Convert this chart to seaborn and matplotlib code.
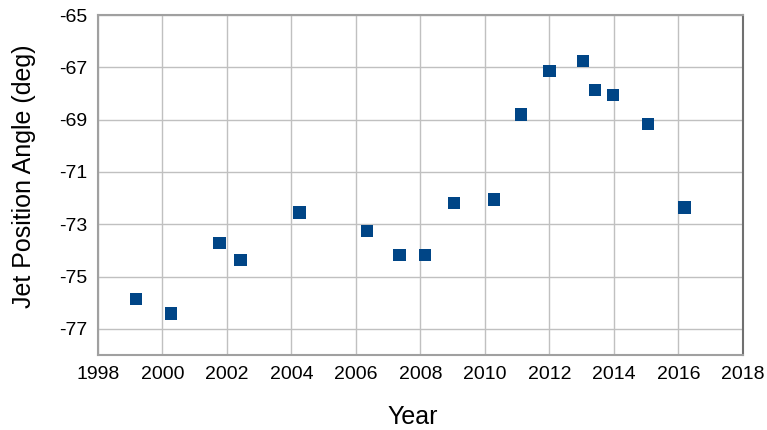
import matplotlib
matplotlib.use("Agg")
import matplotlib.pyplot as plt
import seaborn as sns
import pandas as pd

# ====================== data ======================
years = [1999.17, 2000.26, 2001.77, 2002.42, 2004.25, 2006.34, 2007.35, 2008.14,
         2009.05, 2010.28, 2011.12, 2012.00, 2013.03, 2013.42, 2013.98, 2015.06, 2016.19]
angles = [-75.87, -76.41, -73.72, -74.38, -72.55, -73.27, -74.17, -74.17,
          -72.18, -72.05, -68.80, -67.14, -66.77, -67.88, -68.07, -69.17, -72.36]
x_ticks = list(range(1998, 2019, 2))
y_ticks = [-77, -75, -73, -71, -69, -67, -65]

df = pd.DataFrame({"Year": years, "Angle": angles})

# ====================== plot ======================
sns.set_style("white")
plt.rcParams['font.family'] = ['Liberation Sans', 'DejaVu Sans']
plt.rcParams['text.color'] = 'black'
plt.rcParams['axes.labelcolor'] = 'black'
plt.rcParams['xtick.labelcolor'] = 'black'
plt.rcParams['ytick.labelcolor'] = 'black'

fig = plt.figure(figsize=(7.67, 4.30), dpi=100)
ax = fig.add_axes([98 / 767, 1 - 355 / 430, (743 - 98) / 767, (355 - 15) / 430])

sns.scatterplot(data=df, x="Year", y="Angle", marker="s", s=78, color="#004586",
                edgecolor="none", ax=ax, zorder=3)

ax.set_xlim(1998, 2018)
ax.set_ylim(-78, -65)
ax.set_xticks(x_ticks)
ax.set_yticks(y_ticks)
ax.set_yticklabels([str(t) for t in y_ticks])
ax.grid(True, color="#c0c0c0", linewidth=1.0)
ax.set_axisbelow(True)

for side in ["left", "bottom", "top"]:
    ax.spines[side].set_color("#a0a0a0")
    ax.spines[side].set_linewidth(1.5)
ax.spines["right"].set_color("#707070")
ax.spines["right"].set_linewidth(1.5)

ax.tick_params(axis="x", direction="out", length=5, color="#b3b3b3", labelsize=14, pad=3)
ax.tick_params(axis="y", direction="out", length=0, labelsize=14, pad=8)

ax.set_xlabel("Year", fontsize=18, labelpad=16)
ax.set_ylabel("Jet Position Angle (deg)", fontsize=18, labelpad=16)
ax.xaxis.label.set_x(0.4876)
ax.yaxis.label.set_y(0.5265)

fig.savefig("out.png", dpi=100)
